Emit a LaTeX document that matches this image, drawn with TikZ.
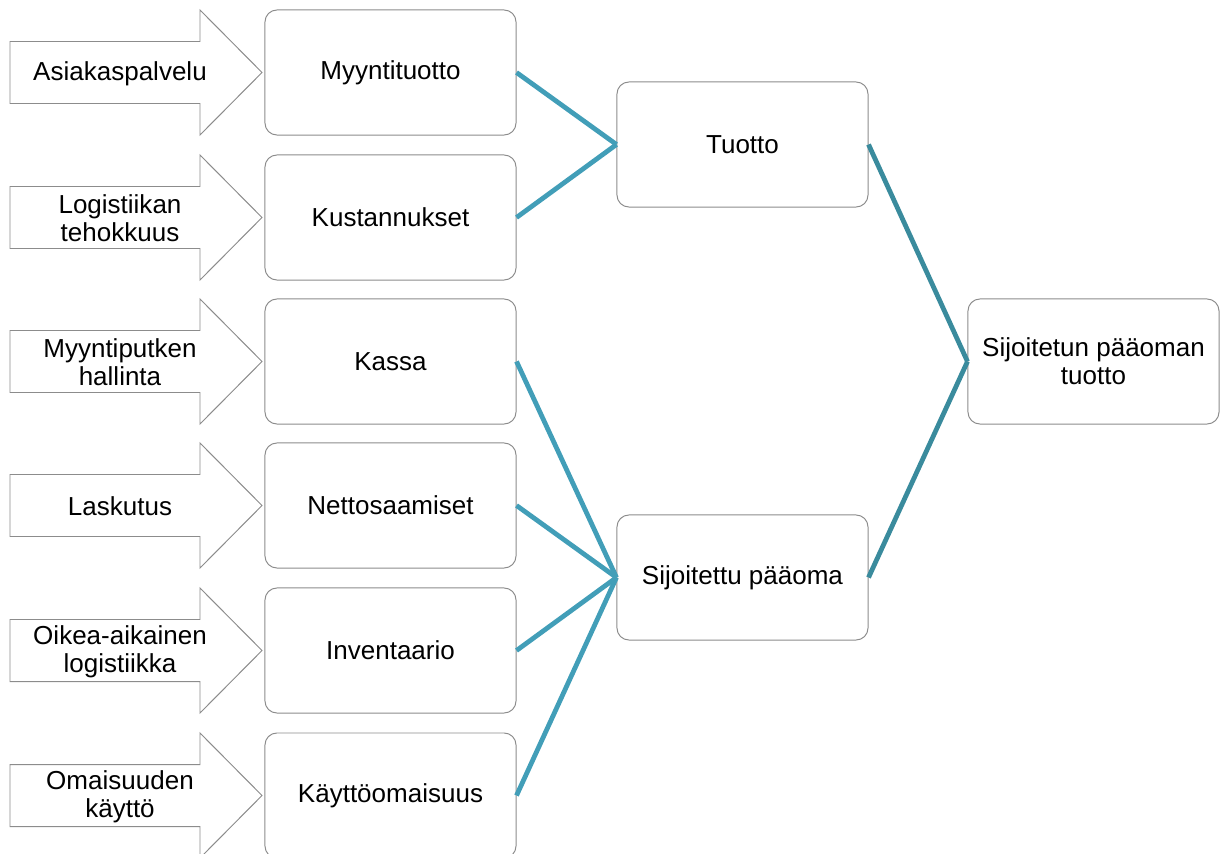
\documentclass[tikz,border=0pt]{standalone}
\usepackage{fontspec}
\setmainfont{Liberation Sans}
\usepackage{tikz}
\definecolor{linkteal}{RGB}{66,158,184}
\definecolor{linkdark}{RGB}{58,139,157}
\definecolor{boxgray}{RGB}{140,140,140}

\begin{document}
\begin{tikzpicture}[x=0.025cm, y=-0.025cm, font=\fontsize{18.5}{19.8}\selectfont,
  box/.style={draw=boxgray, line width=0.7pt, rounded corners=0.3cm, fill=white,
    minimum width=6.275cm, minimum height=3.125cm, align=center, inner sep=2pt},
  blockarrow/.style={draw=boxgray, line width=0.7pt, fill=white},
  link/.style={draw=linkteal, line width=3.4pt},
  linkright/.style={draw=linkdark, line width=3.4pt}]
  \useasboundingbox (0,0) rectangle (1229,854);
  % drivers and their measures
  \foreach \c/\name/\label/\driver in {
      72.5/mt/Myyntituotto/Asiakaspalvelu,
      217.5/ku/Kustannukset/{Logistiikan\\tehokkuus},
      361.5/ka/Kassa/{Myyntiputken\\hallinta},
      505.5/ns/Nettosaamiset/Laskutus,
      650.5/in/Inventaario/{Oikea-aikainen\\logistiikka},
      795.5/ko/Käyttöomaisuus/{Omaisuuden\\käyttö}} {
    \draw[blockarrow] (10,\c-31) -- (200,\c-31) -- (200,\c-62.5) -- (262,\c)
      -- (200,\c+62.5) -- (200,\c+31) -- (10,\c+31) -- cycle;
    \node[align=center] (d-\name) at (120,\c+1) {\driver};
    \node[box] (\name) at (390.5,\c) {\label};
  }
  \node[box] (tu) at (742.5,144.5) {Tuotto};
  \node[box] (sp) at (742.5,577.5) {Sijoitettu pääoma};
  \node[box] (roi) at (1093.5,361.5) {Sijoitetun pääoman\\tuotto};
  % connectors
  \draw[link] (mt.east) -- (tu.west);
  \draw[link] (ku.east) -- (tu.west);
  \foreach \n in {ka,ns,in,ko}
    \draw[link] (\n.east) -- (sp.west);
  \draw[linkright] (tu.east) -- (roi.west);
  \draw[linkright] (sp.east) -- (roi.west);
\end{tikzpicture}
\end{document}
